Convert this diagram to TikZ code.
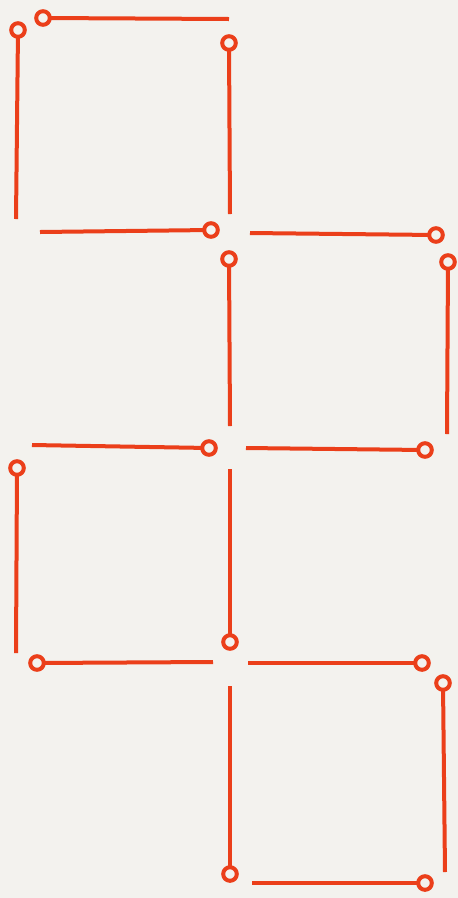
\documentclass[tikz,border=0pt]{standalone}
\definecolor{matchred}{HTML}{EB3F1A}
\definecolor{paper}{HTML}{F3F2EE}
\tikzset{
  stick/.style={draw=matchred, line width=4pt, line cap=butt},
  matchhead/.style={draw=matchred, fill=paper, line width=4pt},
}
\newcommand{\matchstick}[2]{%
  \draw[stick] #2 -- #1;
  \fill[paper] #1 circle (7.5pt);
  \draw[matchhead] #1 circle (6.8pt);
}
\begin{document}
\begin{tikzpicture}[x=1pt,y=-1pt]
\fill[paper] (0,0) rectangle (458,898);
\useasboundingbox (0,0) rectangle (458,898);
\matchstick{(43,18)}{(229,19)}
\matchstick{(18,30)}{(16,219)}
\matchstick{(229,43)}{(230,214)}
\matchstick{(211,230)}{(40,232)}
\matchstick{(436,235)}{(250,233)}
\matchstick{(229,259)}{(230,426)}
\matchstick{(448,262)}{(447,434)}
\matchstick{(209,448)}{(32,445)}
\matchstick{(425,450)}{(246,448)}
\matchstick{(17,468)}{(16,653)}
\matchstick{(230,642)}{(230,469)}
\matchstick{(37,663)}{(213,662)}
\matchstick{(422,663)}{(248,663)}
\matchstick{(443,683)}{(445,872)}
\matchstick{(230,874)}{(230,686)}
\matchstick{(425,883)}{(252,883)}
\end{tikzpicture}
\end{document}
